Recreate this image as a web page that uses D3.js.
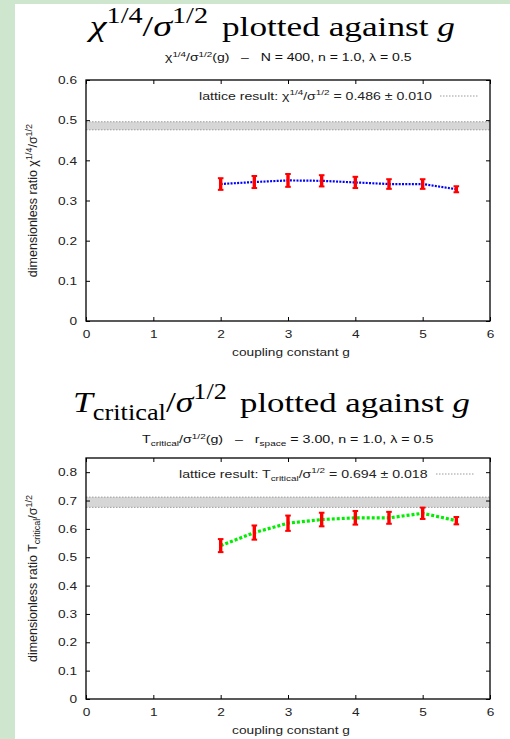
<!DOCTYPE html>
<html><head><meta charset="utf-8">
<script src="https://cdn.jsdelivr.net/npm/d3@7"></script>
<style>
html,body{margin:0;padding:0;background:#fff;}
svg{display:block;}
</style></head>
<body>
<script>
// ---- data ----
const gValues   = [2, 2.5, 3, 3.5, 4, 4.5, 5, 5.5];
const chiValues = [0.341, 0.346, 0.350, 0.349, 0.345, 0.341, 0.341, 0.328];
const chiErrors = [0.0145, 0.015, 0.016, 0.014, 0.014, 0.012, 0.012, 0.0075];
const tcValues  = [0.541, 0.587, 0.620, 0.633, 0.639, 0.639, 0.655, 0.629];
const tcErrors  = [0.023, 0.025, 0.027, 0.024, 0.024, 0.021, 0.020, 0.013];
const latticeMeans  = [0.486, 0.694];
const latticeErrors = [0.010, 0.018];
const xTicks  = [0, 1, 2, 3, 4, 5, 6];
const yTicks1 = [0, 0.1, 0.2, 0.3, 0.4, 0.5, 0.6];
const yTicks2 = [0, 0.1, 0.2, 0.3, 0.4, 0.5, 0.6, 0.7, 0.8];

const W = 510, H = 739;
const svg = d3.select("body").append("svg").attr("width", W).attr("height", H);
svg.append("rect").attr("width", W).attr("height", H).attr("fill", "#cde6cd");
svg.append("rect").attr("x", 15).attr("y", 4).attr("width", W - 15).attr("height", H - 4).attr("fill", "#fff");

const SANS = "'Liberation Sans', Arial, Helvetica, sans-serif";
const SERIF = "'Liberation Serif', 'Times New Roman', serif";
const NB = "\u00a0";
const SX = 1.19; // horizontal stretch of the reference's text

// rich text: parts = [[text, mode]], mode: n, i, sup, sub
function rich(sel, parts, size, ratio = 0.7) {
  let shift = 0;
  parts.forEach(([t, mode]) => {
    const sp = sel.append("tspan").text(t);
    let target = 0, fs = size;
    if (mode === "sup") { target = -0.42 * size; fs = ratio * size; }
    if (mode === "sub") { target = 0.27 * size; fs = ratio * size; }
    sp.attr("font-size", fs);
    if (mode === "i") sp.attr("font-style", "italic");
    const dy = target - shift;
    if (dy !== 0) sp.attr("dy", dy);
    shift = target;
  });
  return sel;
}
// horizontally fit a text element between x0 and x1
function fit(sel, x0, x1) {
  const bb = sel.node().getBBox();
  const sx = (x1 - x0) / bb.width;
  sel.attr("transform", `translate(${x0},0) scale(${sx},1) translate(${-bb.x},0)`);
}
function stretch(sel, sx) {
  sel.each(function () {
    const t = d3.select(this);
    const x = +t.attr("x") || 0;
    t.attr("transform", `translate(${x},0) scale(${sx},1) translate(${-x},0)`);
  });
}

function panel(cfg) {
  const x = d3.scaleLinear().domain([0, 6]).range([86, 490]);
  const y = d3.scaleLinear().domain(cfg.yDomain).range([cfg.bottom, cfg.top]);
  const g = svg.append("g");

  // title: math part and words part
  const tm = rich(g.append("text").attr("x", 0).attr("y", cfg.titleY)
    .attr("font-family", SERIF).attr("fill", "#000"), cfg.titleMath, 30, 0.74);
  fit(tm, cfg.titleMathX[0], cfg.titleMathX[1]);
  const tw = rich(g.append("text").attr("x", 0).attr("y", cfg.titleY)
    .attr("font-family", SERIF).attr("fill", "#000"), cfg.titleWords, 28);
  fit(tw, cfg.titleWordsX[0], cfg.titleWordsX[1]);
  // subtitle
  const st = rich(g.append("text").attr("x", 0).attr("y", cfg.subY)
    .attr("font-family", SANS).attr("fill", "#111"), cfg.sub, 10.5);
  fit(st, cfg.subX[0], cfg.subX[1]);

  // lattice band
  const m = latticeMeans[cfg.idx], e = latticeErrors[cfg.idx];
  g.append("rect").attr("x", x(0)).attr("width", x(6) - x(0))
    .attr("y", y(m + e)).attr("height", y(m - e) - y(m + e)).attr("fill", "#d6d6d6");
  [m + e, m - e].forEach(v => {
    g.append("line").attr("x1", x(0)).attr("x2", x(6)).attr("y1", y(v)).attr("y2", y(v))
      .attr("stroke", "#9a9a9a").attr("stroke-width", 1).attr("stroke-dasharray", "1.5,1.5");
  });

  // axes
  const yAxisL = d3.axisLeft(y).tickValues(cfg.yTicks).tickSize(-4).tickPadding(9)
    .tickFormat(d => d === 0 ? "0" : d3.format(".1f")(d));
  const yAxisR = d3.axisRight(y).tickValues(cfg.yTicks).tickSize(-4).tickFormat("");
  const xAxisB = d3.axisBottom(x).tickValues(xTicks).tickSize(-4).tickPadding(9).tickFormat(d3.format("d"));
  const xAxisT = d3.axisTop(x).tickValues(xTicks).tickSize(-4).tickFormat("");
  const styleAxis = a => {
    a.select(".domain").remove();
    a.selectAll(".tick line").attr("stroke", "#000").attr("stroke-width", 1);
    a.selectAll("text").attr("font-family", SANS).attr("font-size", 11.5).attr("fill", "#222");
    stretch(a.selectAll("text"), SX);
  };
  g.append("g").attr("transform", `translate(${x(0)},0)`).call(yAxisL).call(styleAxis);
  g.append("g").attr("transform", `translate(${x(6)},0)`).call(yAxisR).call(styleAxis);
  g.append("g").attr("transform", `translate(0,${cfg.bottom})`).call(xAxisB).call(styleAxis);
  g.append("g").attr("transform", `translate(0,${cfg.top})`).call(xAxisT).call(styleAxis);
  g.append("rect").attr("x", x(0)).attr("y", cfg.top).attr("width", x(6) - x(0))
    .attr("height", cfg.bottom - cfg.top).attr("fill", "none").attr("stroke", "#000").attr("stroke-width", 1.3);

  // axis labels
  const xl = g.append("text").attr("x", 291).attr("y", cfg.bottom + 35).attr("text-anchor", "middle")
    .attr("font-family", SANS).attr("font-size", 11.5).attr("fill", "#222").text("coupling constant g");
  stretch(xl, SX);
  rich(g.append("text").attr("transform", `translate(37,${(cfg.top + cfg.bottom) / 2}) rotate(-90)`)
    .attr("text-anchor", "middle").attr("font-family", SANS).attr("fill", "#222"), cfg.ylabel, 12.5, 0.72);

  // legend
  const lg = rich(g.append("text").attr("x", 0).attr("y", cfg.top + 20)
    .attr("font-family", SANS).attr("fill", "#222"), cfg.legend, 11.5);
  fit(lg, cfg.legX[0], cfg.legX[1]);
  g.append("line").attr("x1", cfg.legX[1] + 8).attr("x2", cfg.legX[1] + 46)
    .attr("y1", cfg.top + 16).attr("y2", cfg.top + 16)
    .attr("stroke", "#9a9a9a").attr("stroke-width", 1).attr("stroke-dasharray", "1.5,1.5");

  // data line
  const pts = gValues.map((gv, i) => [gv, cfg.values[i], cfg.errors[i]]);
  g.append("path").datum(pts)
    .attr("d", d3.line().x(d => x(d[0])).y(d => y(d[1])))
    .attr("fill", "none").attr("stroke", cfg.color).attr("stroke-width", cfg.lw)
    .attr("stroke-dasharray", cfg.dash);
  // error bars
  const eb = g.append("g").selectAll("g").data(pts).join("g");
  eb.append("line").attr("x1", d => x(d[0])).attr("x2", d => x(d[0]))
    .attr("y1", d => y(d[1] - d[2])).attr("y2", d => y(d[1] + d[2]))
    .attr("stroke", "#ff0000").attr("stroke-width", 3.4);
  [1, -1].forEach(s => {
    eb.append("line").attr("x1", d => x(d[0]) - 2.8).attr("x2", d => x(d[0]) + 2.8)
      .attr("y1", d => y(d[1] + s * d[2])).attr("y2", d => y(d[1] + s * d[2]))
      .attr("stroke", "#ff0000").attr("stroke-width", 2);
  });
}

panel({
  idx: 0, top: 80, bottom: 321, yDomain: [0, 0.6], yTicks: yTicks1,
  titleY: 36, titleMathX: [86, 208], titleWordsX: [222, 455],
  subY: 61, subX: [165, 412], legX: [199, 432],
  values: chiValues, errors: chiErrors, color: "#0000ff", lw: 2.2, dash: "2,1.3",
  titleMath: [["χ", "i"], ["1/4", "sup"], ["/", "n"], ["σ", "i"], ["1/2", "sup"]],
  titleWords: [["plotted against ", "n"], ["g", "i"]],
  sub: [["χ", "n"], ["1/4", "sup"], ["/σ", "n"], ["1/2", "sup"], ["(g)" + NB + NB + NB + "\u2013" + NB + NB + NB + "N = 400, n = 1.0, λ = 0.5", "n"]],
  ylabel: [["dimensionless ratio χ", "n"], ["1/4", "sup"], ["/σ", "n"], ["1/2", "sup"]],
  legend: [["lattice result: χ", "n"], ["1/4", "sup"], ["/σ", "n"], ["1/2", "sup"], [" = 0.486 ± 0.010", "n"]]
});

panel({
  idx: 1, top: 458, bottom: 699, yDomain: [0, 0.85], yTicks: yTicks2,
  titleY: 412, titleMathX: [73, 227], titleWordsX: [240, 470],
  subY: 443, subX: [142, 434], legX: [179, 428],
  values: tcValues, errors: tcErrors, color: "#00ee00", lw: 3.2, dash: "3,2",
  titleMath: [["T", "i"], ["critical", "sub"], ["/", "n"], ["σ", "i"], ["1/2", "sup"]],
  titleWords: [["plotted against ", "n"], ["g", "i"]],
  sub: [["T", "n"], ["critical", "sub"], ["/σ", "n"], ["1/2", "sup"], ["(g)" + NB + NB + NB + "\u2013" + NB + NB + NB + "r", "n"], ["space", "sub"], [" = 3.00, n = 1.0, λ = 0.5", "n"]],
  ylabel: [["dimensionless ratio T", "n"], ["critical", "sub"], ["/σ", "n"], ["1/2", "sup"]],
  legend: [["lattice result: T", "n"], ["critical", "sub"], ["/σ", "n"], ["1/2", "sup"], [" = 0.694 ± 0.018", "n"]]
});
</script>
</body></html>
